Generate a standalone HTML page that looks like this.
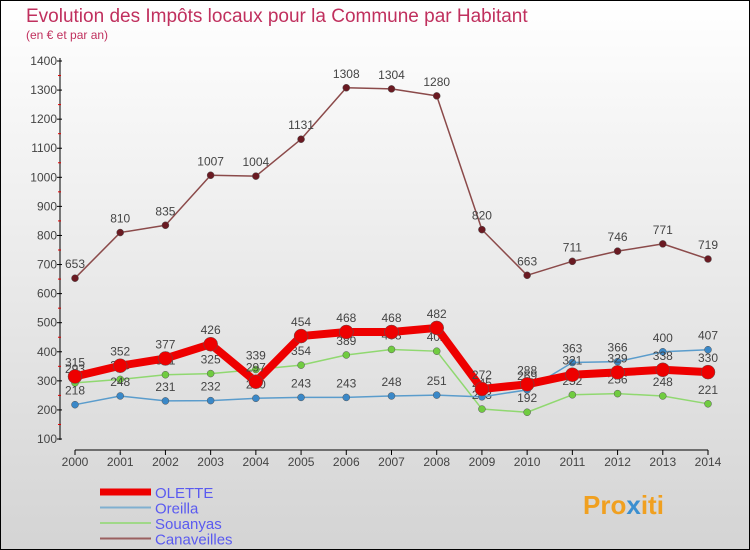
<!DOCTYPE html>
<html><head><meta charset="utf-8"><style>
body{margin:0}
svg{display:block;font-family:"Liberation Sans",sans-serif}
</style></head><body>
<svg id="chart" width="750" height="550" viewBox="0 0 750 550" xmlns="http://www.w3.org/2000/svg">
<defs><linearGradient id="bg" x1="0" y1="0" x2="0" y2="1"><stop offset="0" stop-color="#ffffff"/><stop offset="1" stop-color="#d4d4d4"/></linearGradient></defs>
<rect x="0.5" y="0.5" width="749" height="549" fill="url(#bg)" stroke="#000"/>
<text x="26" y="22" font-size="19" fill="#c0305e">Evolution des Impôts locaux pour la Commune par Habitant</text>
<text x="26" y="39" font-size="12" fill="#c0305e">(en € et par an)</text>
<g id="axes"></g>
<g id="series"></g>
<g id="legend"></g>
<text x="583" y="514" font-size="26" font-weight="bold" fill="#f0a020">Pro<tspan fill="#3a8fd0">x</tspan>iti</text>
</svg>
<script>
const years=[2000,2001,2002,2003,2004,2005,2006,2007,2008,2009,2010,2011,2012,2013,2014];
const olette=[315,352,377,426,297,454,468,468,482,272,288,321,329,338,330];
const oreilla=[218,248,231,232,240,243,243,248,251,245,269,363,366,400,407];
const souanyas=[293,305,321,325,339,354,389,408,402,203,192,252,256,248,221];
const canaveilles=[653,810,835,1007,1004,1131,1308,1304,1280,820,663,711,746,771,719];
const yTicks=[100,200,300,400,500,600,700,800,900,1000,1100,1200,1300,1400];
const NS="http://www.w3.org/2000/svg";
const xS=i=>75+i*(708-75)/(years.length-1);
const yS=v=>439-(v-100)*(439-61)/1300;
function mk(t,a,p){const e=document.createElementNS(NS,t);for(const k in a)e.setAttribute(k,a[k]);p.appendChild(e);return e;}
const ax=document.getElementById('axes');
let l=mk('line',{x1:60,y1:58,x2:60,y2:440,stroke:'#000'},ax);


l=mk('line',{x1:75,y1:450,x2:708,y2:450,stroke:'#000'},ax);


yTicks.forEach((v,i)=>{
 mk('line',{x1:57,y1:yS(v),x2:62,y2:yS(v),stroke:'#000'},ax);
 if(i<yTicks.length-1) mk('line',{x1:58,y1:yS(v+50),x2:61,y2:yS(v+50),stroke:'#e00000'},ax);
 const t=mk('text',{x:57,y:yS(v)+4,'font-size':12,'text-anchor':'end',fill:'#444'},ax);
 t.textContent=v;
 
 
});
years.forEach((y,i)=>{
 mk('line',{x1:xS(i),y1:450,x2:xS(i),y2:455,stroke:'#000'},ax);
 const t=mk('text',{x:xS(i),y:466,'font-size':12,'text-anchor':'middle',fill:'#444'},ax);
 t.textContent=y;
 
 
});
const S=document.getElementById('series');
function draw(name,vals,color,dot,w,r){
 const g=mk('g',{},S);
 
 
 const p=mk('polyline',{points:vals.map((v,i)=>xS(i)+','+yS(v)).join(' '),fill:'none',stroke:color,'stroke-width':w,'stroke-linejoin':'round'},g);
 
 
 vals.forEach((v,i)=>{
  const c=mk('circle',{cx:xS(i),cy:yS(v),r:r,fill:dot,stroke:'#555','stroke-width':0.5},g);
  
  
  const t=mk('text',{x:xS(i),y:yS(v)-10,'font-size':12,'text-anchor':'middle',fill:'#444'},g);
  t.textContent=v;
  
  
 });
}
draw('canaveilles',canaveilles,'#8b4a4a','#6a1a22',1.5,3.5);
draw('souanyas',souanyas,'#90d870','#70cc40',1.5,3.5);
draw('oreilla',oreilla,'#5a9ccc','#3a88c8',1.5,3.5);
draw('olette',olette,'#ee0000','#ee0000',8,7);
const L=document.getElementById('legend');
[['OLETTE','#ee0000',7],['Oreilla','#80b0d0',2],['Souanyas','#a0d888',2],['Canaveilles','#9a6060',2]].forEach((d,i)=>{
 const y=492+i*15.5;
 const g=mk('g',{},L);
 
 
 mk('line',{x1:100,y1:y,x2:151,y2:y,stroke:d[1],'stroke-width':d[2]},g);
 const t=mk('text',{x:155,y:y+6,'font-size':15,fill:'#5a5af0'},g);
 t.textContent=d[0];
});
</script>
</body></html>
